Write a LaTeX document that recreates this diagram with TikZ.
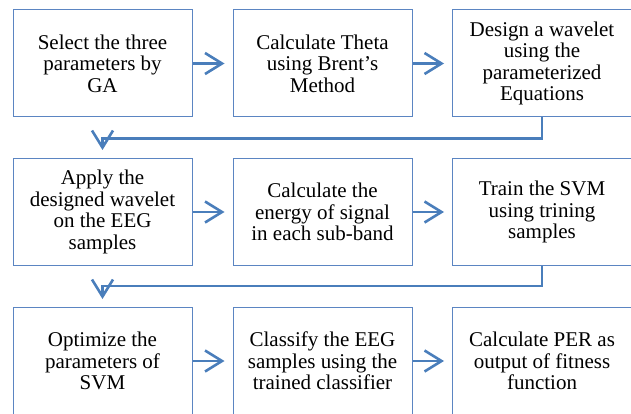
\documentclass[tikz,border=0pt]{standalone}
\usepackage{fontspec}
\setmainfont{Liberation Serif}
\usetikzlibrary{arrows.meta}
\definecolor{boxblue}{HTML}{5B85C2}
\definecolor{linkblue}{HTML}{4A7EBB}
\begin{document}
\begin{tikzpicture}[x=1pt,y=-1pt,
  stepbox/.style={draw=boxblue,line width=1pt,minimum width=179pt,minimum height=107pt,
    align=center,inner sep=0pt,font=\fontsize{21}{21.5}\selectfont,text=black},
  conn/.style={draw=linkblue,line width=2.6pt,
    -{Straight Barb[length=17pt,width=21pt,line width=2.6pt]},shorten >=8pt}]
\useasboundingbox (0,0) rectangle (631,414);
\clip (0,0) rectangle (631,414);
% row 1 (y 10..117)
\node[stepbox] (s1) at (102.5,63.5) {Select the three\\parameters by\\GA};
\node[stepbox] (s2) at (322.5,63.5) {Calculate Theta\\using Brent’s\\Method};
\node[stepbox] (s3) at (542,63.5) {Design a wavelet\\using the\\parameterized\\Equations};
% row 2 (y 158..266)
\node[stepbox] (s4) at (102.5,212) {Apply the\\designed wavelet\\on the EEG\\samples};
\node[stepbox] (s5) at (322.5,212) {Calculate the\\energy of signal\\in each sub-band};
\node[stepbox] (s6) at (542,212) {Train the SVM\\using trining\\samples};
% row 3 (y 307..415)
\node[stepbox] (s7) at (102.5,361) {Optimize the\\parameters of\\SVM};
\node[stepbox] (s8) at (322.5,361) {Classify the EEG\\samples using the\\trained classifier};
\node[stepbox] (s9) at (542,361) {Calculate PER as\\output of fitness\\function};
% connectors
\draw[conn] (s1) -- (s2);
\draw[conn] (s2) -- (s3);
\draw[conn] (s4) -- (s5);
\draw[conn] (s5) -- (s6);
\draw[conn] (s7) -- (s8);
\draw[conn] (s8) -- (s9);
\draw[conn] (s3.south) -- ++(0,21) -| (s4.north);
\draw[conn] (s6.south) -- ++(0,20) -| (s7.north);
\end{tikzpicture}
\end{document}
